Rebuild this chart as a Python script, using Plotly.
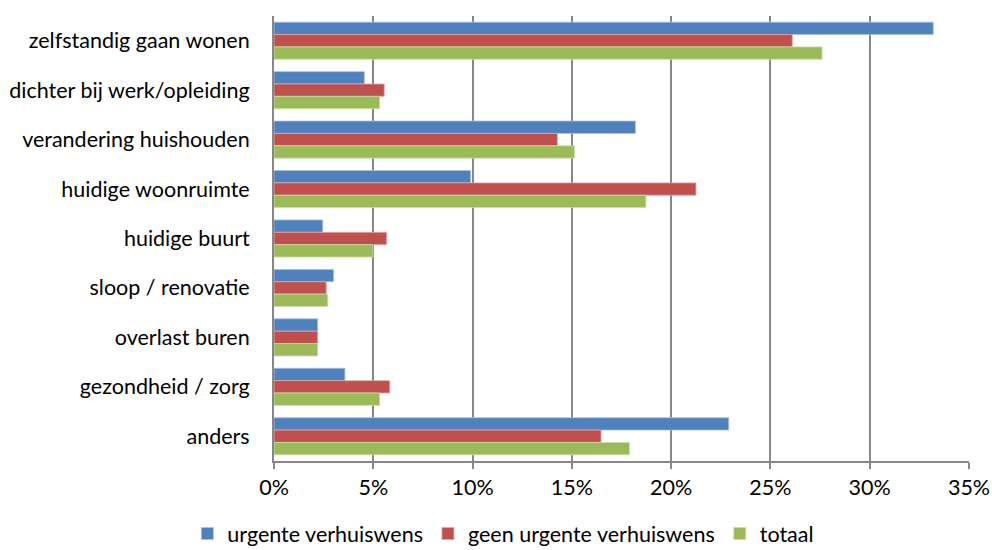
import plotly.graph_objects as go

categories = [
    "zelfstandig gaan wonen",
    "dichter bij werk/opleiding",
    "verandering huishouden",
    "huidige woonruimte",
    "huidige buurt",
    "sloop / renovatie",
    "overlast buren",
    "gezondheid / zorg",
    "anders",
]
urgent = [33.2, 4.55, 18.2, 9.9, 2.45, 3.0, 2.2, 3.57, 22.9]
niet_urgent = [26.1, 5.55, 14.27, 21.25, 5.67, 2.63, 2.2, 5.83, 16.47]
totaal = [27.6, 5.32, 15.13, 18.73, 4.98, 2.71, 2.2, 5.32, 17.9]

series_names = ["urgente verhuiswens", "geen urgente verhuiswens", "totaal"]
series_values = [urgent, niet_urgent, totaal]
colors = ["#4F81BD", "#C0504D", "#9BBB59"]
edge = ["#A7C0DE", "#E0A8A6", "#CDDDAC"]

x_ticks = [0, 5, 10, 15, 20, 25, 30, 35]
x_tick_labels = ["0%", "5%", "10%", "15%", "20%", "25%", "30%", "35%"]

fig = go.Figure()
for name, vals, c, e in zip(series_names, series_values, colors, edge):
    fig.add_trace(go.Bar(
        y=categories, x=vals, name=name, orientation="h",
        marker=dict(color=c, line=dict(color=e, width=0.8)),
    ))

font_family = "Lato, 'Open Sans', sans-serif"
fs = 21.5
fig.update_layout(
    width=992, height=550,
    margin=dict(l=274, r=23, t=16, b=89, autoexpand=False),
    paper_bgcolor="white", plot_bgcolor="white",
    barmode="group", bargap=0.25, bargroupgap=0,
    font=dict(family=font_family, size=fs, color="#000000"),
    showlegend=True,
    legend=dict(
        orientation="h", x=0.33, xanchor="center", y=-0.163, yanchor="middle",
        font=dict(size=fs, family=font_family), itemwidth=30, traceorder="normal",
        bgcolor="rgba(0,0,0,0)",
    ),
    xaxis=dict(
        range=[0, 35], tickvals=x_ticks, ticktext=x_tick_labels,
        showgrid=True, gridcolor="#878787", gridwidth=1.5,
        showline=True, linecolor="#878787", linewidth=1.5,
        ticks="outside", ticklen=6, tickcolor="#878787", tickwidth=1.5,
        zeroline=False, tickfont=dict(size=fs), fixedrange=True, automargin=False,
    ),
    yaxis=dict(
        autorange="reversed", showgrid=False,
        showline=True, linecolor="#878787", linewidth=2,
        ticks="", ticklabelstandoff=18,
        tickfont=dict(size=fs), fixedrange=True, automargin=False,
    ),
)

fig.write_html("out.html", config={"displayModeBar": False},
               post_script="document.body.style.margin='0';")
